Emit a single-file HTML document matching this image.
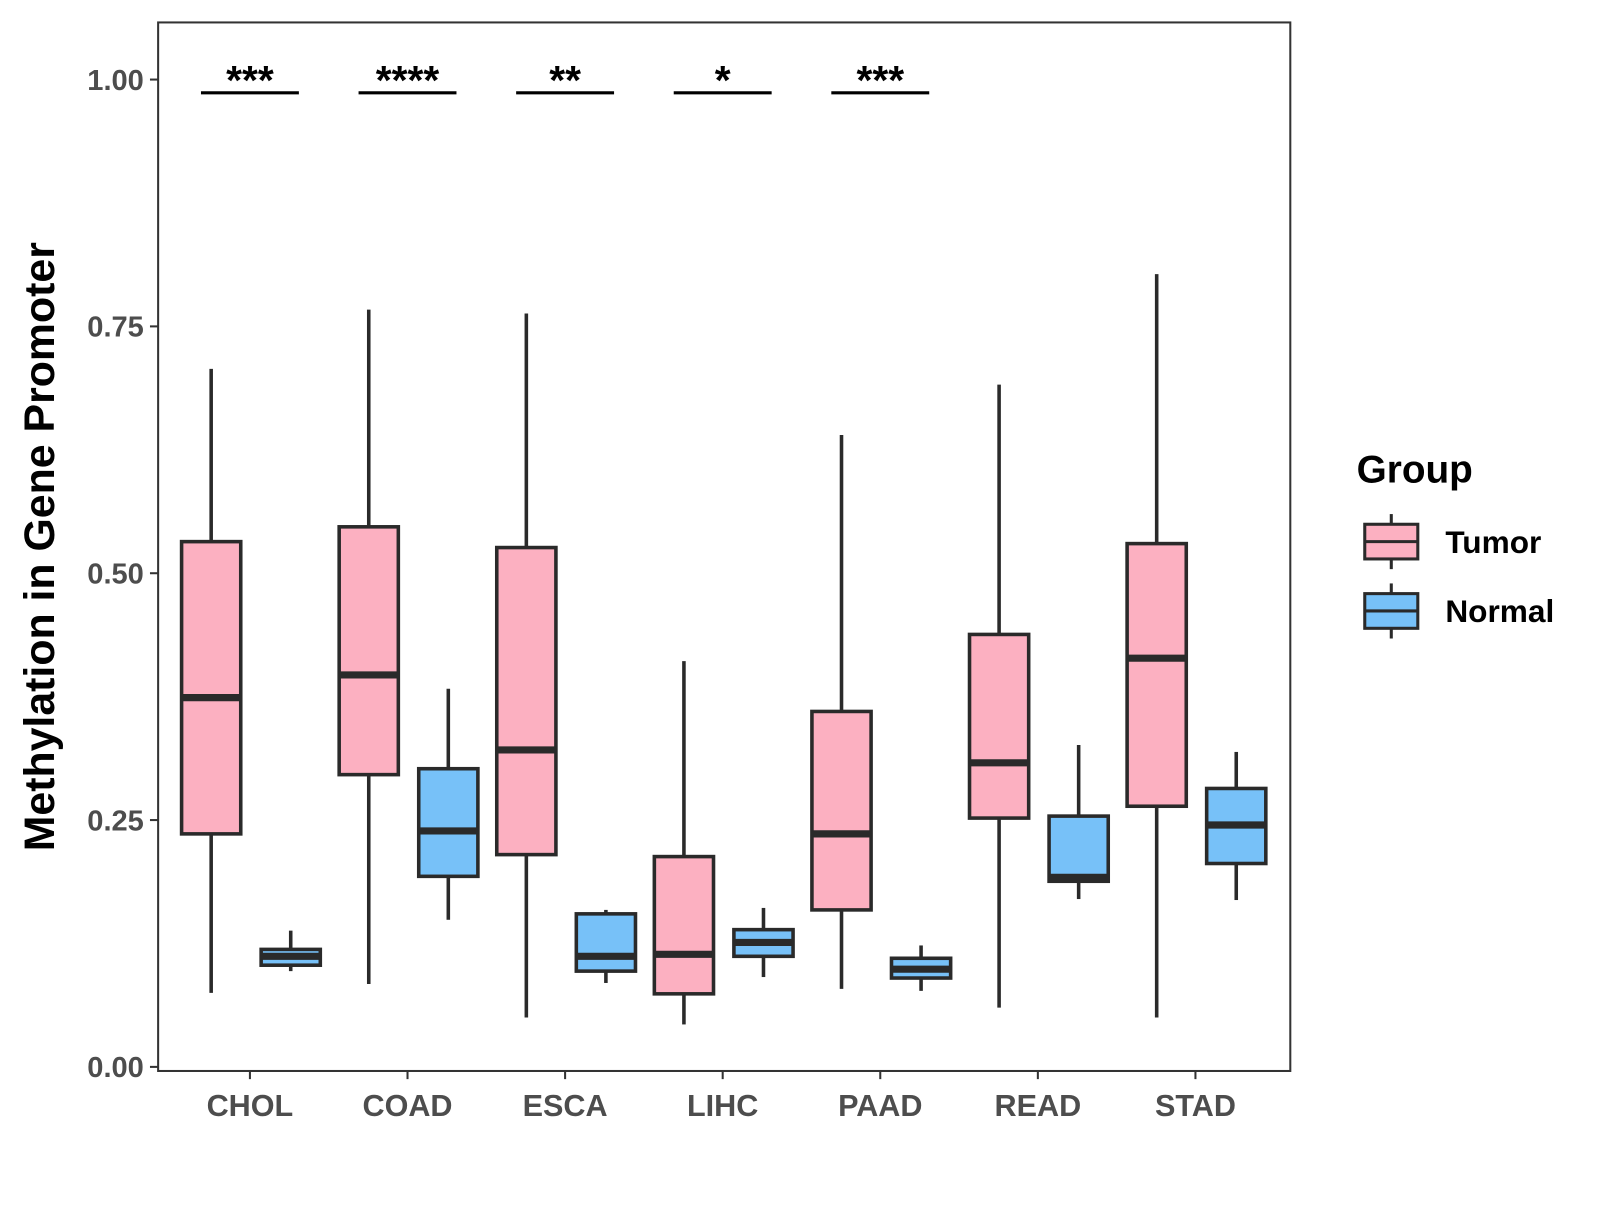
<!DOCTYPE html>
<html><head><meta charset="utf-8"><style>
body{margin:0;background:#fff;width:1600px;height:1200px;overflow:hidden}
svg text{font-family:"Liberation Sans",Arial,sans-serif;font-weight:bold}
</style></head><body>
<svg id="chart" width="1600" height="1200" viewBox="0 0 1568.6 1176.5" xmlns="http://www.w3.org/2000/svg"></svg>
<script>
const categories=["CHOL","COAD","ESCA","LIHC","PAAD","READ","STAD"];
const tumorStats=[[0.075,0.236,0.374,0.532,0.707],[0.084,0.296,0.397,0.547,0.767],[0.050,0.215,0.321,0.526,0.763],[0.043,0.074,0.114,0.213,0.411],[0.079,0.159,0.236,0.360,0.640],[0.060,0.252,0.308,0.438,0.691],[0.050,0.264,0.414,0.530,0.803]];
const normalStats=[[0.097,0.103,0.112,0.119,0.138],[0.149,0.193,0.239,0.302,0.383],[0.085,0.097,0.112,0.155,0.159],[0.091,0.112,0.126,0.139,0.161],[0.077,0.090,0.099,0.110,0.123],[0.170,0.188,0.192,0.254,0.326],[0.169,0.206,0.245,0.282,0.319]];
const sigLabels=["***","****","**","*","***"];
const yTicks=[0,0.25,0.5,0.75,1.0];
const yTickLabels=["0.00","0.25","0.50","0.75","1.00"];

const svg=document.getElementById('chart');
const NS="http://www.w3.org/2000/svg";
const L=155,R=1265,T=22,B=1050;
const y=v=>1046-v*968;
const x=i=>245+i*154.5;
function mk(tag,attrs,parent){const e=document.createElementNS(NS,tag);for(const k in attrs)e.setAttribute(k,attrs[k]);(parent||svg).appendChild(e);return e;}

const frame=mk('rect',{x:L,y:T,width:R-L,height:B-T,fill:'none',stroke:'#333','stroke-width':2});



yTicks.forEach((t,i)=>{
  const tk=mk('line',{x1:L-8,x2:L,y1:y(t),y2:y(t),stroke:'#333','stroke-width':2});
  
  
  const tx=mk('text',{x:L-14,y:y(t)+10,'text-anchor':'end','font-size':28.5,fill:'#4d4d4d'});
  tx.textContent=yTickLabels[i];
  
  
});
categories.forEach((c,i)=>{
  const tk=mk('line',{x1:x(i),x2:x(i),y1:B,y2:B+8,stroke:'#333','stroke-width':2});
  
  
  const tx=mk('text',{x:x(i),y:B+44,'text-anchor':'middle','font-size':30,fill:'#4d4d4d'});
  tx.textContent=c;
  
  
});
const yt=mk('text',{x:0,y:0,'text-anchor':'middle','font-size':42,fill:'#000',transform:'translate(53,536) rotate(-90)'});
yt.textContent='Methylation in Gene Promoter';



function box(cx,s,fill,name){
  const g=mk('g',{});
  
  
  const w=58;
  mk('line',{x1:cx,x2:cx,y1:y(s[0]),y2:y(s[1]),stroke:'#2a2a2a','stroke-width':3.5},g);
  mk('line',{x1:cx,x2:cx,y1:y(s[3]),y2:y(s[4]),stroke:'#2a2a2a','stroke-width':3.5},g);
  mk('rect',{x:cx-w/2,y:y(s[3]),width:w,height:y(s[1])-y(s[3]),fill:fill,stroke:'#2a2a2a','stroke-width':3.5},g);
  mk('line',{x1:cx-w/2,x2:cx+w/2,y1:y(s[2]),y2:y(s[2]),stroke:'#2a2a2a','stroke-width':7},g);
}
categories.forEach((c,i)=>{
  box(x(i)-38,tumorStats[i],'#fcb0c1','box-tumor-'+c.toLowerCase());
  box(x(i)+40,normalStats[i],'#77c1f8','box-normal-'+c.toLowerCase());
});
sigLabels.forEach((s,i)=>{
  const ln=mk('line',{x1:x(i)-48,x2:x(i)+48,y1:91,y2:91,stroke:'#000','stroke-width':3});
  
  
  const tx=mk('text',{x:x(i),y:92,'text-anchor':'middle','font-size':40,fill:'#000'});
  tx.textContent=s;
  
  
});
const lt=mk('text',{x:1330,y:473,'font-size':38,fill:'#000'});
lt.textContent='Group';


[['Tumor','#fcb0c1',531],['Normal','#77c1f8',599]].forEach(([n,f,cy])=>{
  const g=mk('g',{});
  
  
  mk('line',{x1:1364,x2:1364,y1:cy-27,y2:cy+27,stroke:'#2a2a2a','stroke-width':3},g);
  mk('rect',{x:1338,y:cy-17,width:52,height:34,fill:f,stroke:'#2a2a2a','stroke-width':3},g);
  mk('line',{x1:1338,x2:1390,y1:cy,y2:cy,stroke:'#2a2a2a','stroke-width':3},g);
  const t=mk('text',{x:1417,y:cy+11,'font-size':31,fill:'#000'},g);
  t.textContent=n;
});
</script>
</body></html>
